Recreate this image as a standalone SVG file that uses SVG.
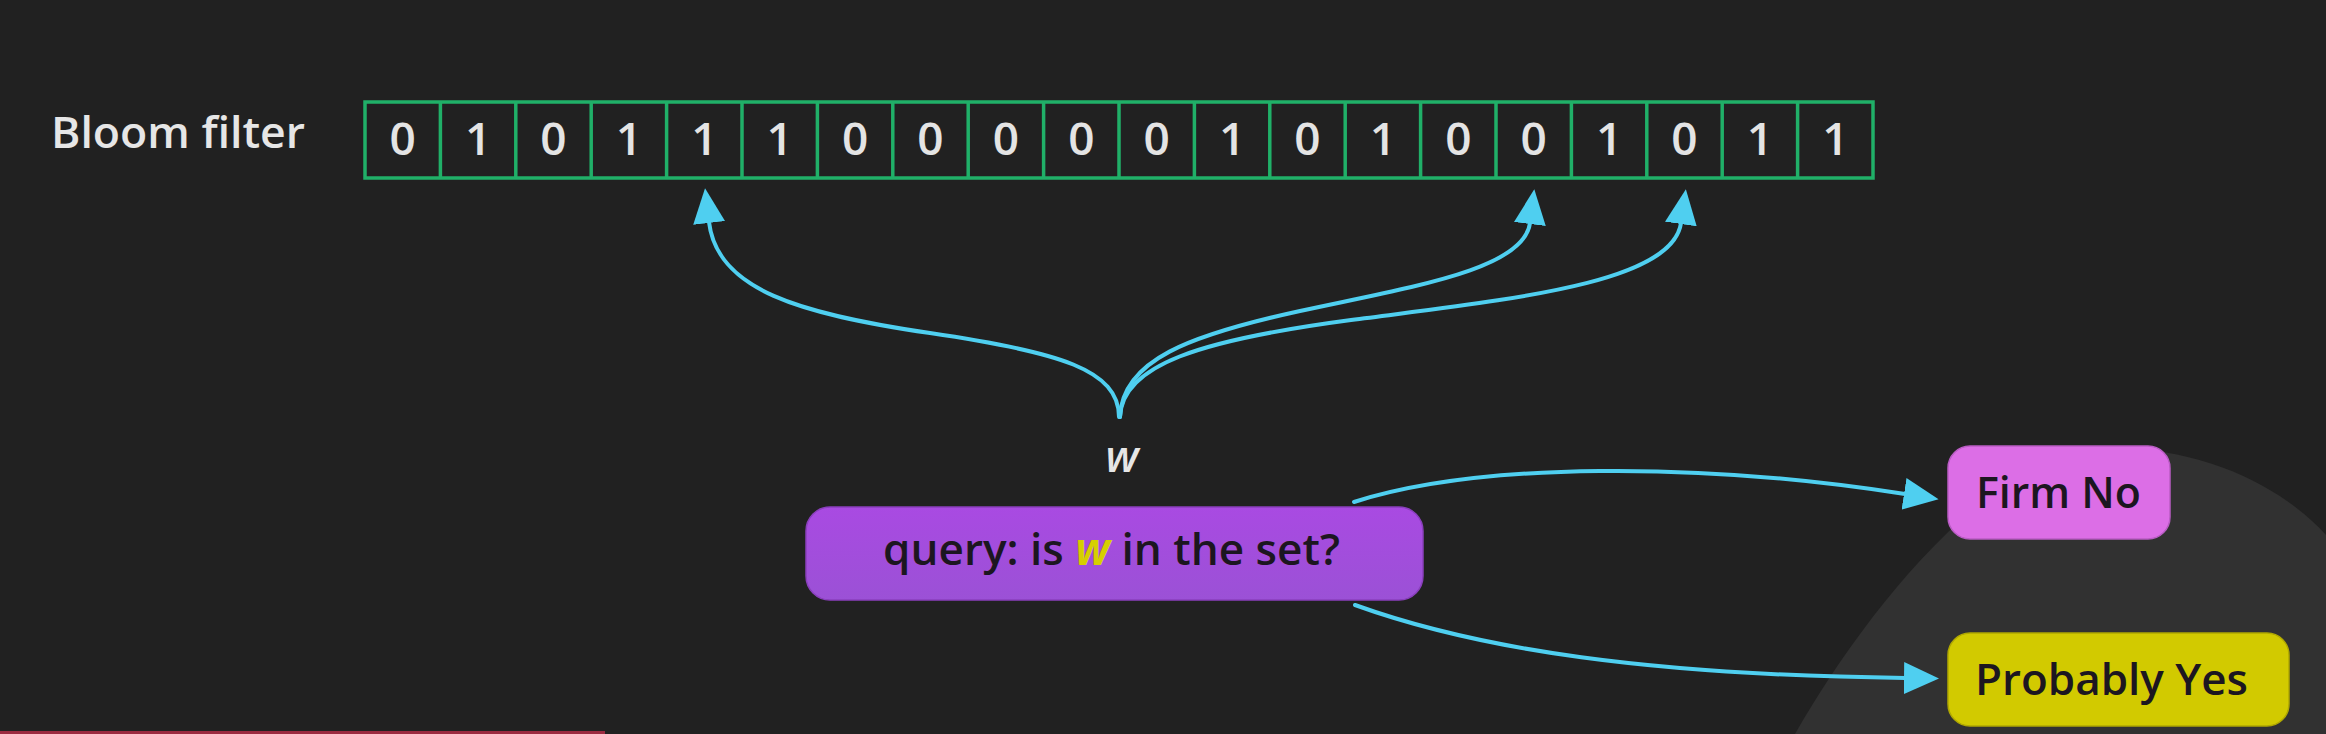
<svg xmlns="http://www.w3.org/2000/svg" width="2326" height="734" viewBox="0 0 2326 734">
<style>
.lbl{font-family:"Open Sans","Noto Sans","Liberation Sans",sans-serif;font-weight:600;}
.bit{font-family:"Open Sans","Noto Sans","Liberation Sans",sans-serif;font-weight:600;font-size:46px;fill:#e4e4e4;text-anchor:middle;}
.cell{stroke:#20b068;stroke-width:3.5;fill:none;}
.conn{fill:none;stroke:#4fcff0;stroke-width:4;stroke-linecap:round;}
.dark{fill:#1c1620;}
</style>
<defs>
<marker id="ah" viewBox="0 0 35 32" markerWidth="35" markerHeight="32" refX="1" refY="16" orient="auto" markerUnits="userSpaceOnUse">
<path d="M0,0 L35,16 L0,32 Z" fill="#4fcff0"/>
</marker>
<linearGradient id="qg" x1="0" y1="0" x2="0" y2="1">
<stop offset="0" stop-color="#a94ae2"/>
<stop offset="1" stop-color="#9b51d6"/>
</linearGradient>
</defs>
<rect x="0" y="0" width="2326" height="734" fill="#212121"/>
<path d="M1795,734 C1860,620 1990,448 2110,448 C2210,448 2285,490 2326,535 L2326,734 Z" fill="#313131"/>
<rect x="0" y="731" width="605" height="3" fill="#9b2a40"/>

<g id="label-bloom">
<text class="lbl" x="51" y="148" font-size="44" fill="#e6e6e6" textLength="254" lengthAdjust="spacingAndGlyphs">Bloom filter</text>
</g>

<g id="bloom-array">
<rect class="cell" x="365" y="102" width="1508" height="76"/>
<path class="cell" d="M440.4,102V178M515.8,102V178M591.2,102V178M666.6,102V178M742,102V178M817.4,102V178M892.8,102V178M968.2,102V178M1043.6,102V178M1119,102V178M1194.4,102V178M1269.8,102V178M1345.2,102V178M1420.6,102V178M1496,102V178M1571.4,102V178M1646.8,102V178M1722.2,102V178M1797.6,102V178"/>
<text class="bit" x="402.7" y="155">0</text>
<text class="bit" x="478.1" y="155">1</text>
<text class="bit" x="553.5" y="155">0</text>
<text class="bit" x="628.9" y="155">1</text>
<text class="bit" x="704.3" y="155">1</text>
<text class="bit" x="779.7" y="155">1</text>
<text class="bit" x="855.1" y="155">0</text>
<text class="bit" x="930.5" y="155">0</text>
<text class="bit" x="1005.9" y="155">0</text>
<text class="bit" x="1081.3" y="155">0</text>
<text class="bit" x="1156.7" y="155">0</text>
<text class="bit" x="1232.1" y="155">1</text>
<text class="bit" x="1307.5" y="155">0</text>
<text class="bit" x="1382.9" y="155">1</text>
<text class="bit" x="1458.3" y="155">0</text>
<text class="bit" x="1533.7" y="155">0</text>
<text class="bit" x="1609.1" y="155">1</text>
<text class="bit" x="1684.5" y="155">0</text>
<text class="bit" x="1759.9" y="155">1</text>
<text class="bit" x="1835.3" y="155">1</text>
</g>

<g id="connectors">
<path class="conn" marker-end="url(#ah)" d="M1119,417 C1119,370 1060,352 930,333 C800,314 717,290 709,222"/>
<path class="conn" marker-end="url(#ah)" d="M1120,417 C1122,360 1190,335 1300,311 C1410,287 1524,270 1530,223"/>
<path class="conn" marker-end="url(#ah)" d="M1120,417 C1122,365 1200,340 1351,320 C1502,300 1672,285 1681,223"/>
<path class="conn" marker-end="url(#ah)" d="M1354,502 C1480,462 1700,462 1905,494"/>
<path class="conn" marker-end="url(#ah)" d="M1355,605 C1480,650 1650,675 1905,678"/>
</g>

<g id="node-w">
<text class="lbl" x="1122" y="472" font-size="44" font-weight="700" font-style="italic" fill="#e6e6e6" text-anchor="middle">w</text>
</g>

<g id="node-query">
<rect x="806" y="507" width="617" height="93" rx="24" fill="url(#qg)" stroke="#8a3fbd" stroke-width="1.5"/>
<text class="lbl dark" x="883" y="565" font-size="44" textLength="457" lengthAdjust="spacingAndGlyphs">query: is <tspan font-style="italic" font-weight="700" fill="#d6cf00">w</tspan> in the set?</text>
</g>

<g id="node-firm-no">
<rect x="1948" y="446" width="222" height="93" rx="22" fill="#dc6ee6" stroke="#b95cc4" stroke-width="1.5"/>
<text class="lbl dark" x="1976" y="508" font-size="43" textLength="165" lengthAdjust="spacingAndGlyphs">Firm No</text>
</g>

<g id="node-probably-yes">
<rect x="1948" y="633" width="341" height="93" rx="22" fill="#d2ca00" stroke="#b0a800" stroke-width="1.5"/>
<text class="lbl dark" x="1975" y="695" font-size="43" textLength="273" lengthAdjust="spacingAndGlyphs">Probably Yes</text>
</g>
</svg>
